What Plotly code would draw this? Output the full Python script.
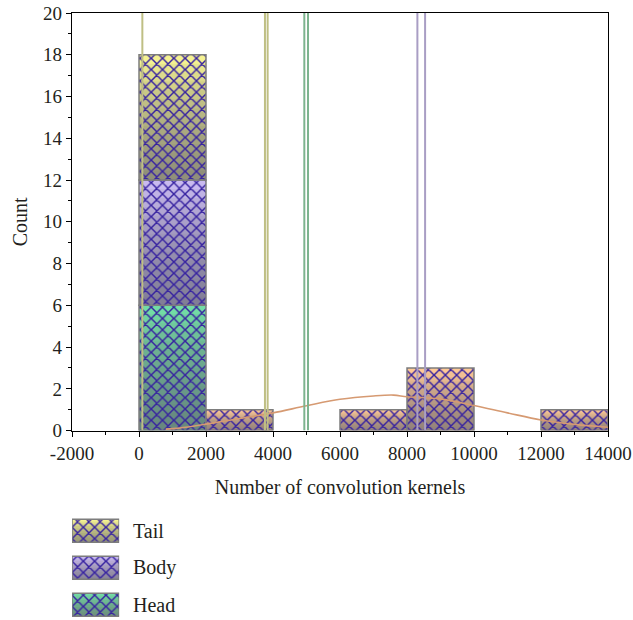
import numpy as np
import plotly.graph_objects as go

# ---------------- data ----------------
bin_centers = [1000, 3000, 5000, 7000, 9000, 11000, 13000]
bin_width = 2000
head_counts = [6, 0, 0, 0, 0, 0, 0]
body_counts = [6, 0, 0, 0, 0, 0, 0]
tail_counts = [6, 0, 0, 0, 0, 0, 0]
other_counts = [0, 1, 0, 1, 3, 0, 1]

tail_lines = [100, 3760, 3840]
head_lines = [4935, 5045]
body_lines = [8310, 8540]

fit_x = [800, 1200, 2000, 3000, 4000, 5000, 6000, 7000, 7600, 8000, 9000, 10000, 11000, 12000, 13000, 14000]
fit_y = [0.07, 0.12, 0.31, 0.58, 0.85, 1.19, 1.50, 1.66, 1.70, 1.62, 1.52, 1.20, 0.85, 0.51, 0.30, 0.16]

x_ticks = [-2000, 0, 2000, 4000, 6000, 8000, 10000, 12000, 14000]
y_ticks = [0, 2, 4, 6, 8, 10, 12, 14, 16, 18, 20]
legend_names = ["Tail", "Body", "Head"]
legend_pos = [2, 1, 0]

# ---------------- styles ----------------
FONT = "Liberation Serif"
TXT = "#231f20"
tail_col = "#f5f292"
body_col = "#c9baf0"
head_col = "#72dca5"
other_col = "#ffc996"
line_cols = {"tail": "#bfbf84", "head": "#7db48f", "body": "#a99ec4"}
hatch_col = "#3622a0"
edge_col = "#7d7d7d"

fig = go.Figure()


def nz(arr):
    return [None if (v is None or v == 0) else v for v in arr]


def add_gradient_bars(x, base, heights, top_color, width, xa="x", ya="y", n=14, a=0.085):
    h = np.array(heights, dtype=float)
    b = np.array(base, dtype=float)
    common = dict(x=x, base=list(b), width=width, xaxis=xa, yaxis=ya,
                  showlegend=False, hoverinfo="skip")
    fig.add_trace(go.Bar(y=nz(list(h)), marker=dict(color=top_color, line=dict(width=0)), **common))
    for k in range(1, n):
        fig.add_trace(go.Bar(y=nz(list(h * k / n)),
                             marker=dict(color="rgba(110,110,112,%.3f)" % a, line=dict(width=0)),
                             **common))
    fig.add_trace(go.Bar(y=nz(list(h)),
                         marker=dict(color="rgba(0,0,0,0)",
                                     line=dict(color=edge_col, width=1.5),
                                     pattern=dict(shape="x", fgcolor=hatch_col,
                                                  bgcolor="rgba(0,0,0,0)",
                                                  fillmode="replace", size=8, solidity=0.33)),
                         **common))


head_base = [0] * len(bin_centers)
body_base = list(np.array(head_base) + np.array(head_counts))
tail_base = list(np.array(body_base) + np.array(body_counts))
widths = [bin_width] * len(bin_centers)

add_gradient_bars(bin_centers, head_base, head_counts, head_col, widths)
add_gradient_bars(bin_centers, body_base, body_counts, body_col, widths)
add_gradient_bars(bin_centers, tail_base, tail_counts, tail_col, widths)
add_gradient_bars(bin_centers, [0] * len(bin_centers), other_counts, other_col, widths)

# fitted curve
fig.add_trace(go.Scatter(x=fit_x, y=fit_y, mode="lines", line=dict(color="#d69a72", width=1.6, shape="spline"),
                         showlegend=False, hoverinfo="skip"))

# reference lines
for key, vals in (("tail", tail_lines), ("head", head_lines), ("body", body_lines)):
    for v in vals:
        fig.add_trace(go.Scatter(x=[v, v], y=[y_ticks[0], y_ticks[-1]], mode="lines",
                                 line=dict(color=line_cols[key], width=2),
                                 showlegend=False, hoverinfo="skip"))

# legend swatches (own small axes)
sw_cols = [tail_col, body_col, head_col]
for name, pos, col in zip(legend_names, legend_pos, sw_cols):
    add_gradient_bars([0.5], [pos - 0.31], [0.62], col, [1.0], xa="x2", ya="y2", n=10, a=0.11)
    fig.add_annotation(x=0.11, y=pos, xref="paper", yref="y2", text=name, showarrow=False,
                       xanchor="left", yanchor="middle", font=dict(family=FONT, size=20, color=TXT))

fig.update_layout(
    width=633, height=620,
    margin=dict(l=72, r=25, t=13, b=0),
    paper_bgcolor="white", plot_bgcolor="white",
    barmode="overlay",
    showlegend=False,
    font=dict(family=FONT, size=19, color=TXT),
    xaxis=dict(range=[x_ticks[0], x_ticks[-1]], tickvals=x_ticks, ticktext=[str(v) for v in x_ticks],
               ticks="outside", ticklen=5, tickwidth=1.2, tickcolor="black", automargin=False,
               minor=dict(dtick=1000, ticks="outside", ticklen=3, tickcolor="black"),
               showline=True, linecolor="black", linewidth=1.3, mirror=True,
               showgrid=False, zeroline=False,
               title=dict(text="Number of convolution kernels", standoff=17,
                          font=dict(family=FONT, size=20, color=TXT)),
               tickfont=dict(family=FONT, size=19, color=TXT)),
    yaxis=dict(domain=[0.312, 1], range=[y_ticks[0], y_ticks[-1]], tickvals=y_ticks,
               ticks="outside", ticklen=5, tickwidth=1.2, tickcolor="black", automargin=False,
               minor=dict(dtick=1, ticks="outside", ticklen=3, tickcolor="black"),
               showline=True, linecolor="black", linewidth=1.3, mirror=True,
               showgrid=False, zeroline=False,
               title=dict(text="Count", standoff=10, font=dict(family=FONT, size=20, color=TXT)),
               tickfont=dict(family=FONT, size=19, color=TXT)),
    xaxis2=dict(domain=[0.0, 0.088], range=[0, 1], visible=False, anchor="y2"),
    yaxis2=dict(domain=[0.0, 0.19], range=[-0.414, 2.702], visible=False, anchor="x2"),
)

fig.write_html("out.html")
